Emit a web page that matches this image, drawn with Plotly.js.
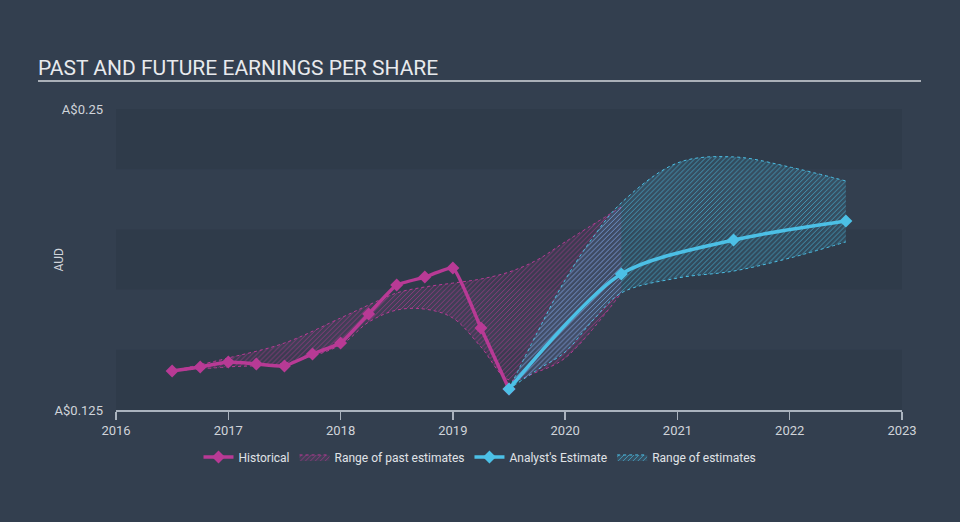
<!DOCTYPE html>
<html>
<head>
<meta charset="utf-8">
<script src="https://cdn.plot.ly/plotly-3.0.1.min.js"></script>
<style>
  html, body { margin: 0; padding: 0; background: #333f4f; }
  #chart { width: 960px; height: 522px; }
</style>
</head>
<body>
<div id="chart"></div>
<script>
// ---- Data ----
const histYears = [2016.5, 2016.75, 2017, 2017.25, 2017.5, 2017.75, 2018, 2018.25, 2018.5, 2018.75, 2019, 2019.25, 2019.5];
const histEPS   = [0.1412, 0.1429, 0.1449, 0.1441, 0.1433, 0.1483, 0.1528, 0.1649, 0.1769, 0.1802, 0.1840, 0.1591, 0.1337];

const pastRangeYears = [2016.5, 2017, 2017.5, 2018, 2018.25, 2018.5, 2018.75, 2019, 2019.25, 2019.5, 2019.75, 2020, 2020.5];
const pastRangeHigh  = [0.1412, 0.1466, 0.1528, 0.1632, 0.1686, 0.1736, 0.1761, 0.1777, 0.1794, 0.1823, 0.1873, 0.1948, 0.2093];
const pastRangeLow   = [0.1412, 0.1429, 0.1445, 0.1520, 0.1615, 0.1665, 0.1669, 0.1632, 0.1512, 0.1375, 0.1408, 0.1466, 0.1736];

const estYears = [2019.5, 2020.5, 2021.5, 2022.5];
const estEPS   = [0.1337, 0.1815, 0.1956, 0.2035];

const estRangeYears = [2019.5, 2019.75, 2020, 2020.25, 2020.5, 2021, 2021.5, 2022, 2022.5];
const estRangeHigh  = [0.1337, 0.1570, 0.1790, 0.1968, 0.2110, 0.2276, 0.2301, 0.2259, 0.2201];
const estRangeLow   = [0.1337, 0.1416, 0.1491, 0.1624, 0.1736, 0.1798, 0.1827, 0.1881, 0.1948];

const xTicks = [2016, 2017, 2018, 2019, 2020, 2021, 2022, 2023];
const yTickVals = [0.125, 0.25];
const yTickText = ['A$0.125', 'A$0.25'];

// ---- Styling ----
const MAG = '#b83a95';
const CYAN = '#4cc0e6';
const FONT = 'Roboto, "Open Sans", sans-serif';

const traces = [
  {
    x: pastRangeYears, y: pastRangeLow, type: 'scatter', mode: 'lines',
    line: {color: MAG, width: 1, dash: 'dot', shape: 'spline', smoothing: 1},
    showlegend: false, hoverinfo: 'skip'
  },
  {
    x: pastRangeYears, y: pastRangeHigh, type: 'scatter', mode: 'lines',
    name: 'Range of past estimates',
    line: {color: MAG, width: 1, dash: 'dot', shape: 'spline', smoothing: 1},
    fill: 'tonexty', fillcolor: 'rgba(184,58,149,0.12)',
    fillpattern: {shape: '/', fgcolor: 'rgba(184,58,149,0.7)', bgcolor: 'rgba(184,58,149,0.10)', size: 3.5, solidity: 0.25},
    hoverinfo: 'skip'
  },
  {
    x: estRangeYears, y: estRangeLow, type: 'scatter', mode: 'lines',
    line: {color: CYAN, width: 1, dash: 'dot', shape: 'spline', smoothing: 1},
    showlegend: false, hoverinfo: 'skip'
  },
  {
    x: estRangeYears, y: estRangeHigh, type: 'scatter', mode: 'lines',
    name: 'Range of estimates',
    line: {color: CYAN, width: 1, dash: 'dot', shape: 'spline', smoothing: 1},
    fill: 'tonexty', fillcolor: 'rgba(76,192,230,0.12)',
    fillpattern: {shape: '/', fgcolor: 'rgba(76,192,230,0.7)', bgcolor: 'rgba(76,192,230,0.12)', size: 3.5, solidity: 0.25},
    hoverinfo: 'skip'
  },
  {
    x: histYears, y: histEPS, type: 'scatter', mode: 'lines+markers',
    name: 'Historical',
    line: {color: MAG, width: 3.5, shape: 'spline', smoothing: 0.4},
    marker: {symbol: 'diamond', size: 10, color: MAG}
  },
  {
    x: estYears, y: estEPS, type: 'scatter', mode: 'lines+markers',
    name: "Analyst's Estimate",
    line: {color: CYAN, width: 3.5, shape: 'spline', smoothing: 0.8},
    marker: {symbol: 'diamond', size: 10, color: CYAN}
  }
];

// legend order: Historical, Range of past, Analyst's Estimate, Range of estimates
traces[4].legendrank = 1;
traces[1].legendrank = 2;
traces[5].legendrank = 3;
traces[3].legendrank = 4;

const bandColor = 'rgba(20,28,40,0.10)';
const layout = {
  width: 960, height: 522,
  paper_bgcolor: '#333f4f',
  plot_bgcolor: 'rgba(0,0,0,0)',
  margin: {l: 116, r: 58, t: 109, b: 112},
  font: {family: FONT, color: '#d0d4da', size: 12},
  title: {
    text: 'PAST AND FUTURE EARNINGS PER SHARE',
    font: {family: FONT, size: 21, color: '#e8eaed'},
    xref: 'container', x: 38/960, xanchor: 'left',
    yref: 'container', y: 1 - 68/522, yanchor: 'middle'
  },
  xaxis: {
    range: [2016, 2023], tickvals: xTicks, ticktext: xTicks.map(String),
    showgrid: false, zeroline: false,
    showline: true, linecolor: '#aab3be', linewidth: 1.5,
    ticks: 'outside', ticklen: 8, tickcolor: '#aab3be', tickwidth: 1.5,
    tickfont: {family: FONT, size: 13, color: '#d0d4da'},
    fixedrange: true
  },
  yaxis: {
    range: [0.125, 0.25], tickvals: yTickVals, ticktext: yTickText,
    showgrid: false, zeroline: false, showline: false,
    ticks: '', ticklabelstandoff: 12,
    tickfont: {family: FONT, size: 13, color: '#d0d4da'},
    fixedrange: true
  },
  showlegend: true,
  legend: {
    orientation: 'h', x: (480 - 116) / 786, xanchor: 'center', xref: 'paper',
    y: -0.156, yanchor: 'middle',
    bgcolor: 'rgba(0,0,0,0)',
    font: {family: FONT, size: 12, color: '#e0e3e7'},
    itemwidth: 30, traceorder: 'normal'
  },
  annotations: [
    {
      text: 'AUD', xref: 'paper', yref: 'paper',
      x: (58 - 116) / 786, y: 0.5, xanchor: 'center', yanchor: 'middle',
      textangle: -90, showarrow: false,
      font: {family: FONT, size: 12, color: '#d0d4da'}
    }
  ],
  shapes: [
    {type: 'rect', xref: 'paper', yref: 'y', x0: 0, x1: 1, y0: 0.225, y1: 0.25, fillcolor: bandColor, line: {width: 0}, layer: 'below'},
    {type: 'rect', xref: 'paper', yref: 'y', x0: 0, x1: 1, y0: 0.175, y1: 0.2, fillcolor: bandColor, line: {width: 0}, layer: 'below'},
    {type: 'rect', xref: 'paper', yref: 'y', x0: 0, x1: 1, y0: 0.125, y1: 0.15, fillcolor: bandColor, line: {width: 0}, layer: 'below'},
    {type: 'line', xref: 'paper', yref: 'paper', x0: (38 - 116) / 786, x1: (921 - 116) / 786, y0: (410 - 81) / 301, y1: (410 - 81) / 301, line: {color: '#aab0b8', width: 2}}
  ]
};

Plotly.newPlot('chart', traces, layout, {displayModeBar: false, staticPlot: true});
</script>
</body>
</html>
